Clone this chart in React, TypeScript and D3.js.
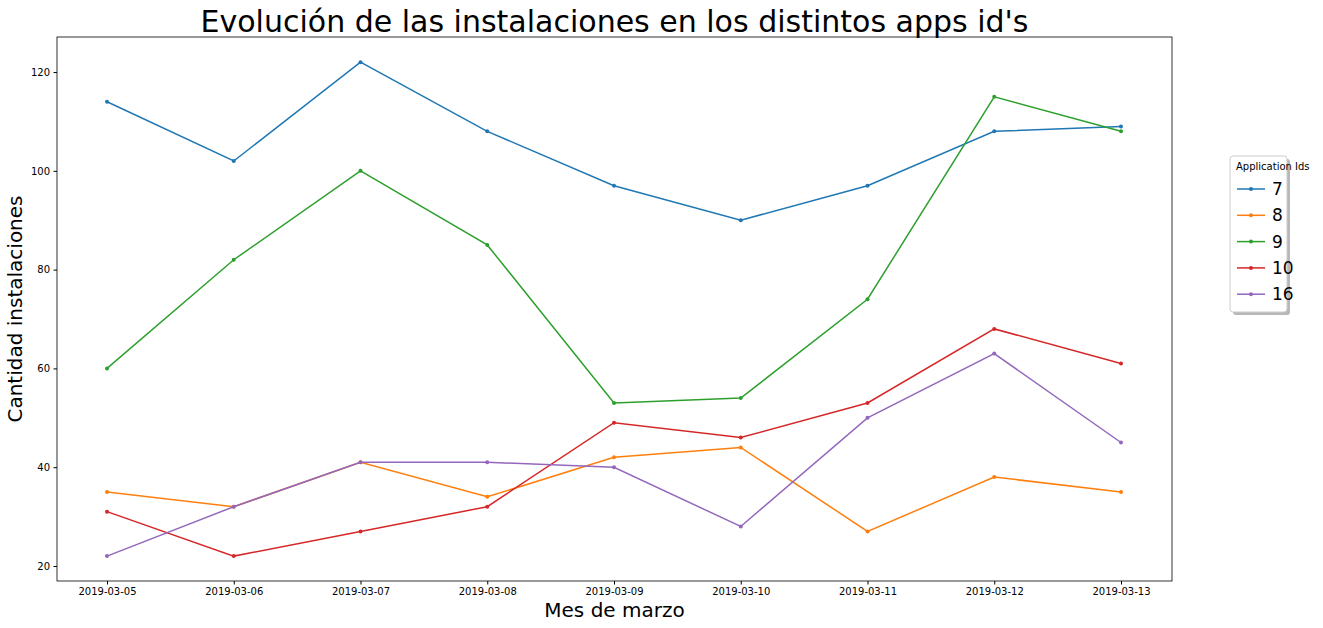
import { useEffect, useRef } from 'react';
import * as d3 from 'd3';

const dates = ['2019-03-05', '2019-03-06', '2019-03-07', '2019-03-08', '2019-03-09', '2019-03-10', '2019-03-11', '2019-03-12', '2019-03-13'];
const appIds = ['7', '8', '9', '10', '16'];
const colors = ['#1f77b4', '#ff7f0e', '#2ca02c', '#d62728', '#9467bd'];
const app7 = [114, 102, 122, 108, 97, 90, 97, 108, 109];
const app8 = [35, 32, 41, 34, 42, 44, 27, 38, 35];
const app9 = [60, 82, 100, 85, 53, 54, 74, 115, 108];
const app10 = [31, 22, 27, 32, 49, 46, 53, 68, 61];
const app16 = [22, 32, 41, 41, 40, 28, 50, 63, 45];
const yTicks = [20, 40, 60, 80, 100, 120];

export default function App() {
  const ref = useRef<SVGSVGElement>(null);

  useEffect(() => {
    if (!ref.current) return;
    const W = 1323, H = 628;
    const m = { left: 57, right: 1172, top: 37, bottom: 581 };
    const svg = d3.select(ref.current).attr('width', W).attr('height', H);
    svg.selectAll('*').remove();
    const font = 'DejaVu Sans, sans-serif';

    const x = d3.scalePoint<string>().domain(dates).range([107, 1121]);
    const y = d3.scaleLinear().domain([16.96, 127.1]).range([m.bottom, m.top]);

    svg.append('rect').attr('width', W).attr('height', H).attr('fill', 'white');

    const series = [app7, app8, app9, app10, app16];
    const line = d3.line<number>().x((_, i) => x(dates[i])!).y(d => y(d));
    series.forEach((s, k) => {
      svg.append('path').attr('d', line(s)).attr('fill', 'none').attr('stroke', colors[k]).attr('stroke-width', 1.5);
      svg.selectAll(null).data(s).enter().append('circle')
        .attr('cx', (_, i) => x(dates[i])!).attr('cy', d => y(d)).attr('r', 2).attr('fill', colors[k]);
    });

    svg.append('rect').attr('x', m.left).attr('y', m.top).attr('width', m.right - m.left).attr('height', m.bottom - m.top)
      .attr('fill', 'none').attr('stroke', 'black').attr('stroke-width', 0.8);

    const xa = svg.append('g').attr('transform', `translate(0,${m.bottom})`)
      .call(d3.axisBottom(x).tickSizeOuter(0).tickSize(3.5).tickPadding(3.5));
    xa.select('.domain').remove();
    xa.selectAll('text').attr('font-family', font).attr('font-size', 10).attr('fill', 'black');

    const ya = svg.append('g').attr('transform', `translate(${m.left},0)`)
      .call(d3.axisLeft(y).tickValues(yTicks).tickSizeOuter(0).tickSize(3.5).tickPadding(3.5));
    ya.select('.domain').remove();
    ya.selectAll('text').attr('font-family', font).attr('font-size', 10).attr('fill', 'black');

    svg.append('text').attr('x', (m.left + m.right) / 2).attr('y', 32).attr('text-anchor', 'middle')
      .attr('font-family', font).attr('font-size', 30).text("Evolución de las instalaciones en los distintos apps id's");
    svg.append('text').attr('x', (m.left + m.right) / 2).attr('y', 617).attr('text-anchor', 'middle')
      .attr('font-family', font).attr('font-size', 20).text('Mes de marzo');
    svg.append('text').attr('transform', `translate(22,${(m.top + m.bottom) / 2}) rotate(-90)`).attr('text-anchor', 'middle')
      .attr('font-family', font).attr('font-size', 20).text('Cantidad instalaciones');

    const lg = svg.append('g');
    lg.append('rect').attr('x', 1233).attr('y', 159).attr('width', 57).attr('height', 156).attr('rx', 3)
      .attr('fill', '#888').attr('opacity', 0.6);
    lg.append('rect').attr('x', 1230).attr('y', 156).attr('width', 57).attr('height', 156).attr('rx', 3)
      .attr('fill', 'white').attr('stroke', '#ccc');
    lg.append('text').attr('x', 1236).attr('y', 170).attr('font-family', font).attr('font-size', 10).text('Application Ids');
    appIds.forEach((id, k) => {
      const yy = 189 + k * 26.3;
      lg.append('line').attr('x1', 1237).attr('x2', 1265).attr('y1', yy).attr('y2', yy).attr('stroke', colors[k]).attr('stroke-width', 1.5);
      lg.append('circle').attr('cx', 1251).attr('cy', yy).attr('r', 2).attr('fill', colors[k]);
      lg.append('text').attr('x', 1272).attr('y', yy + 6).attr('font-family', font).attr('font-size', 17).text(id);
    });
  }, []);

  return (
    <div style={{ position: 'absolute', left: 0, top: 0 }}>
      <svg ref={ref} />
    </div>
  );
}
